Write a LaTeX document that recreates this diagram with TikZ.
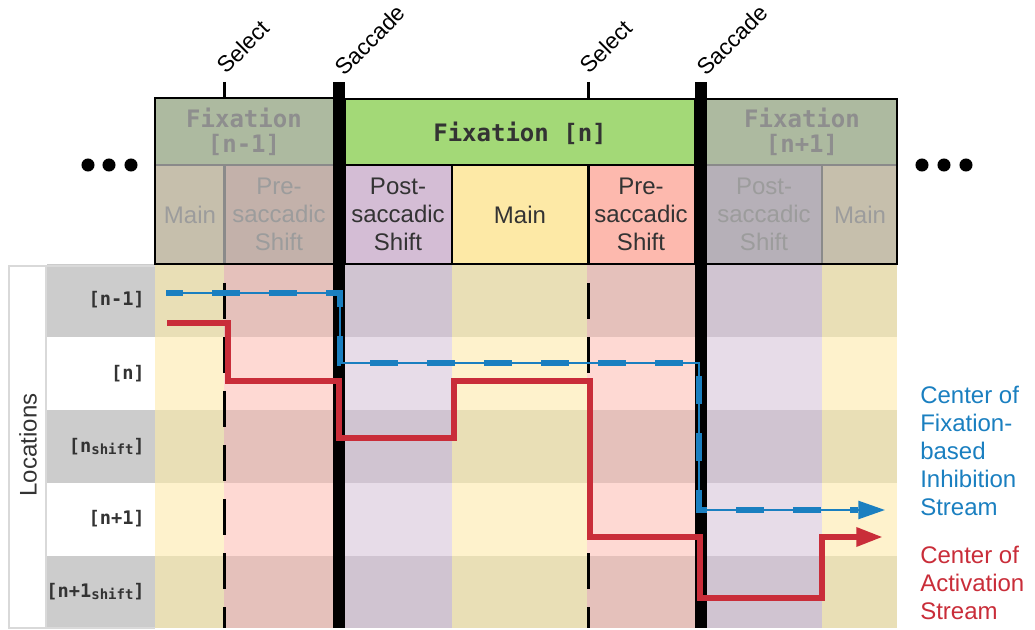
\documentclass[tikz,border=0pt]{standalone}
\usepackage{fontspec}
\setmainfont{Liberation Sans}
\setmonofont{DejaVu Sans Mono}
\usetikzlibrary{arrows.meta}
\definecolor{yelL}{HTML}{FEF2CC}
\definecolor{yelD}{HTML}{E9DFB6}
\definecolor{redL}{HTML}{FED9D3}
\definecolor{redD}{HTML}{E5C1BB}
\definecolor{purL}{HTML}{E7DCE8}
\definecolor{purD}{HTML}{D0C4D1}
\definecolor{lblgray}{HTML}{CCCCCC}
\definecolor{lblborder}{HTML}{D9D9D9}
\definecolor{greyhead}{HTML}{ADBAA0}
\definecolor{greymain}{HTML}{C6BFAC}
\definecolor{greypre}{HTML}{C3B1AA}
\definecolor{greypost}{HTML}{B6B0B8}
\definecolor{greenhead}{HTML}{A3D977}
\definecolor{postc}{HTML}{D4BDD5}
\definecolor{mainc}{HTML}{FDE9A6}
\definecolor{prec}{HTML}{FDB9AE}
\definecolor{txtdark}{HTML}{333333}
\definecolor{txtgreyM}{HTML}{8E8E8E}
\definecolor{txtgrey}{HTML}{9C9C9C}
\definecolor{innergrey}{HTML}{8A8A8A}
\definecolor{bluec}{HTML}{1A7FC0}
\definecolor{redc}{HTML}{C92D39}
\begin{document}
\begin{tikzpicture}[x=0.75pt,y=-0.75pt,
  celltxt/.style={font=\fontsize{18}{21}\selectfont, align=center, text=txtdark, inner sep=0pt},
  greytxt/.style={celltxt, text=txtgrey},
  headtxt/.style={font=\ttfamily\bfseries\fontsize{18}{18.75}\selectfont, align=center, text=txtdark, inner sep=0pt},
  greyhtxt/.style={headtxt, text=txtgreyM},
  rowlbl/.style={font=\ttfamily\bfseries\fontsize{14}{16}\selectfont, text=txtdark, anchor=east, inner sep=0pt},
  evtlbl/.style={font=\fontsize{17}{18}\selectfont, text=black, rotate=45, inner sep=0pt},
  legend/.style={font=\fontsize{18}{21}\selectfont, align=left, anchor=west, inner sep=0pt},
  outerb/.style={draw=black, line width=1.5pt},
  innerb/.style={draw=innergrey, line width=1.5pt},
  dotc/.style={fill=black},
  selectdash/.style={draw=black, line width=2.25pt, dash pattern=on 27pt off 13.5pt},
  stream/.style={line width=4.5pt, draw=redc, miter limit=10},
  tip/.style={-{Triangle[length=20pt,width=13.5pt]}}
]
\useasboundingbox (0,0) rectangle (1035,630);

% ---------- grid ----------
\foreach \xa/\xb/\c in {155/224/yel,224/333/red,333/345/red,345/452/pur,452/587/yel,587/695/red,695/707/pur,707/822/pur,822/897/yel}{
  \foreach \ya/\yb/\s in {264/337/D,337/410/L,410/483/D,483/556/L,556/628/D}{
    \fill[\c\s] (\xa,\ya) rectangle (\xb,\yb);
  }
}
% label column
\foreach \ya/\yb/\c in {264/337/lblgray,337/410/white,410/483/lblgray,483/556/white,556/628/lblgray}{
  \fill[\c] (47,\ya) rectangle (155,\yb);
}
\fill[white] (9,266) rectangle (46,628);
\draw[lblborder, line width=1.2pt] (155,266) -- (9,266) -- (9,628) -- (155,628);
\draw[lblborder, line width=1.2pt] (46,266) -- (46,628);
\node[font=\fontsize{18}{21}\selectfont, text=txtdark, rotate=90, inner sep=0pt] (loc) at (28,445) {Locations};

\node[rowlbl] (r1) at (145,300) {[n-1]};
\node[rowlbl] (r2) at (145,374) {[n]};
\node[rowlbl] (r3) at (145,447) {[n\raisebox{-1.5pt}{\fontsize{10.5}{12}\selectfont shift}]};
\node[rowlbl] (r4) at (145,519) {[n+1]};
\node[rowlbl] (r5) at (145,592) {[n+1\raisebox{-1.5pt}{\fontsize{10.5}{12}\selectfont shift}]};

% ---------- select dashed lines ----------
\draw[selectdash] (224,283) -- (224,628);
\draw[selectdash] (588,283) -- (588,628);
\draw[black, line width=2.25pt] (224,82) -- (224,98);
\draw[black, line width=2.25pt] (588,82) -- (588,99);

% ---------- header: fixation n-1 ----------
\fill[greyhead] (155,98) rectangle (333,165);
\fill[greymain] (155,165) rectangle (224,264);
\fill[greypre] (224,165) rectangle (333,264);
\draw[innerb] (155,165) -- (333,165);
\draw[innerb, line width=2.25pt] (224,165) -- (224,264);
\draw[outerb] (333,98) -- (155,98) -- (155,264) -- (333,264);
\node[greyhtxt] (hfA) at (244,132) {Fixation\\{}[n-1]};
\node[greytxt] (hmA) at (190,215) {Main};
\node[greytxt] (hpA) at (279,214) {Pre-\\saccadic\\Shift};

% ---------- header: fixation n ----------
\fill[greenhead] (345,99) rectangle (695,165);
\fill[postc] (345,165) rectangle (452,264);
\fill[mainc] (452,165) rectangle (587,264);
\fill[prec] (587,165) rectangle (695,264);
\draw[outerb] (345,99) rectangle (695,264);
\draw[outerb] (345,165) -- (695,165);
\draw[outerb] (452,165) -- (452,264);
\draw[black, line width=2.25pt] (588,165) -- (588,264);
\node[headtxt] (hfB) at (520,133) {Fixation [n]};
\node[celltxt] (hsB) at (398,214) {Post-\\saccadic\\Shift};
\node[celltxt] (hmB) at (520,215) {Main};
\node[celltxt] (hpB) at (641,214) {Pre-\\saccadic\\Shift};

% ---------- header: fixation n+1 ----------
\fill[greyhead] (707,99) rectangle (897,165);
\fill[greypost] (707,165) rectangle (822,264);
\fill[greymain] (822,165) rectangle (897,264);
\draw[innerb] (707,165) -- (897,165);
\draw[innerb] (822,165) -- (822,264);
\draw[outerb] (707,99) -- (897,99) -- (897,264) -- (707,264);
\node[greyhtxt] (hfC) at (802,132) {Fixation\\{}[n+1]};
\node[greytxt] (hsC) at (764,214) {Post-\\saccadic\\Shift};
\node[greytxt] (hmC) at (860,215) {Main};

% ---------- saccade bars ----------
\fill[black] (333,82) rectangle (345,628);
\fill[black] (695,82) rectangle (707,628);

% ---------- event labels ----------
\node[evtlbl] (sel1) at (243,47) {Select};
\node[evtlbl] (sac1) at (370,40) {Saccade};
\node[evtlbl] (sel2) at (606,47) {Select};
\node[evtlbl] (sac2) at (732,40) {Saccade};

% ---------- ellipses ----------
\foreach \x in {88,109,131}{\fill[dotc] (\x,165) circle[radius=4.9pt];}
\foreach \x in {922,944,966}{\fill[dotc] (\x,165) circle[radius=4.9pt];}

% ---------- streams ----------
\coordinate (r0) at (167,323);
\coordinate (rE) at (883,537);
\draw[stream, tip] (r0) -- (228,323) -- (228,381) -- (339,381) -- (339,438) -- (454,438) -- (454,381) -- (590,381) -- (590,537) -- (700,537) -- (700,598) -- (822,598) -- (822,537) -- (rE);

\coordinate (b0) at (166,293);
\coordinate (bE) at (885,510);
\draw[bluec, line width=1.8pt, tip] (b0) -- (340,293) -- (340,363) -- (699,363) -- (699,510) -- (bE);
\draw[bluec, line width=5pt, dash pattern=on 21pt off 21.75pt, dash phase=8pt, shorten >=20pt] (b0) -- (340,293) -- (340,363) -- (699,363) -- (699,510) -- (bE);

% ---------- legend ----------
\node[legend, text=bluec] (legB) at (920,451) {Center of\\Fixation-\\based\\Inhibition\\Stream};
\node[legend, text=redc] (legR) at (920,583) {Center of\\Activation\\Stream};
\end{tikzpicture}
\end{document}
